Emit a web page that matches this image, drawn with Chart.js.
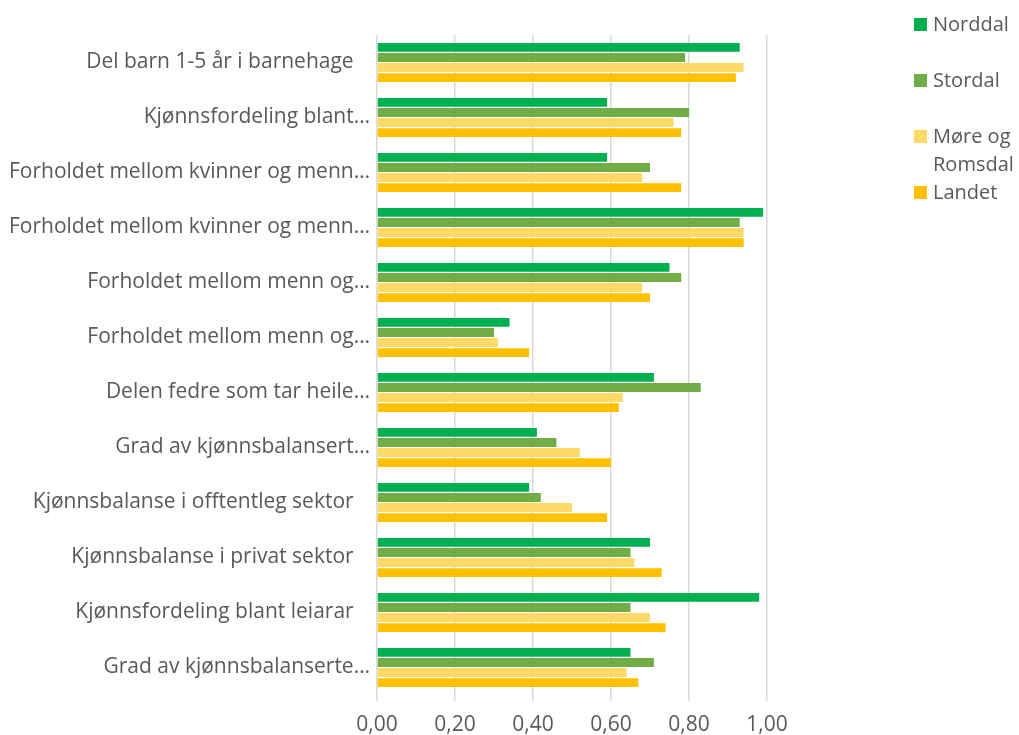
<!DOCTYPE html>
<html lang="no">
<head>
  <meta charset="UTF-8" />
  <title>Kjønnsbalanse</title>
  <script src="https://cdn.jsdelivr.net/npm/chart.js"></script>
  <style>
    body {
      margin: 0;
      background: #fff;
      font-family: "Open Sans", sans-serif;
      color: #595959;
    }
    .wrap {
      position: relative;
      width: 1019px;
      height: 735px;
    }
    #legend {
      position: absolute;
      left: 914px;
      top: 10px;
      width: 105px;
    }
    .item {
      display: flex;
      align-items: flex-start;
      height: 56px;
      font-size: 20px;
      line-height: 28px;
    }
    .box {
      flex: 0 0 13px;
      height: 13px;
      margin-top: 8px;
      margin-right: 6px;
    }
  </style>
</head>
<body>
  <div class="wrap">
    <canvas id="chart" width="1019" height="735"></canvas>
    <div id="legend"></div>
  </div>

  <script>
    const categories = [
      "Del barn 1-5 år i barnehage   ",
      "Kjønnsfordeling blant…",
      "Forholdet mellom kvinner og menn…",
      "Forholdet mellom kvinner og menn…",
      "Forholdet mellom menn og…",
      "Forholdet mellom menn og…",
      "Delen fedre som tar heile…",
      "Grad av kjønnsbalansert…",
      "Kjønnsbalanse i offtentleg sektor   ",
      "Kjønnsbalanse i privat sektor   ",
      "Kjønnsfordeling blant leiarar   ",
      "Grad av kjønnsbalanserte…"
    ];
    const seriesNames = ["Norddal", "Stordal", "Møre og Romsdal", "Landet"];
    const seriesColors = ["#00B050", "#70AD47", "#FFD966", "#FFC000"];
    const norddal = [0.93, 0.59, 0.59, 0.99, 0.75, 0.34, 0.71, 0.41, 0.39, 0.70, 0.98, 0.65];
    const stordal = [0.79, 0.80, 0.70, 0.93, 0.78, 0.30, 0.83, 0.46, 0.42, 0.65, 0.65, 0.71];
    const moreRomsdal = [0.94, 0.76, 0.68, 0.94, 0.68, 0.31, 0.63, 0.52, 0.50, 0.66, 0.70, 0.64];
    const landet = [0.92, 0.78, 0.78, 0.94, 0.70, 0.39, 0.62, 0.60, 0.59, 0.73, 0.74, 0.67];
    const xTicks = [0, 0.2, 0.4, 0.6, 0.8, 1.0];

    const seriesValues = [norddal, stordal, moreRomsdal, landet];

    // legend drawn as html so "Møre og Romsdal" can wrap like the original
    const legend = document.getElementById("legend");
    seriesNames.forEach((name, i) => {
      const item = document.createElement("div");
      item.className = "item";
      item.innerHTML = `<span class="box" style="background:${seriesColors[i]}"></span><span>${name}</span>`;
      legend.appendChild(item);
    });

    const font = { family: "'Open Sans', sans-serif", size: 21 };

    new Chart(document.getElementById("chart"), {
      type: "bar",
      data: {
        labels: categories,
        datasets: seriesNames.map((name, i) => ({
          label: name,
          data: seriesValues[i],
          backgroundColor: seriesColors[i],
          categoryPercentage: 0.73,
          barPercentage: 0.88
        }))
      },
      options: {
        indexAxis: "y",
        responsive: false,
        animation: false,
        layout: { padding: { top: 35, right: 252, bottom: 1, left: 0 } },
        plugins: {
          legend: { display: false },
          tooltip: { enabled: false }
        },
        scales: {
          x: {
            min: 0,
            max: 1,
            afterBuildTicks: scale => { scale.ticks = xTicks.map(v => ({ value: v })); },
            afterFit: scale => { scale.height = 39; },
            ticks: {
              font: font,
              color: "#595959",
              padding: 11,
              callback: v => v.toFixed(2).replace(".", ",")
            },
            grid: { color: "#d9d9d9", lineWidth: 1.5, tickLength: 6 },
            border: { display: false }
          },
          y: {
            afterFit: scale => { scale.width = 377; },
            ticks: { font: font, color: "#595959", padding: 7, autoSkip: false },
            grid: { display: false, drawTicks: false },
            border: { display: false }
          }
        }
      }
    });
  </script>
</body>
</html>
